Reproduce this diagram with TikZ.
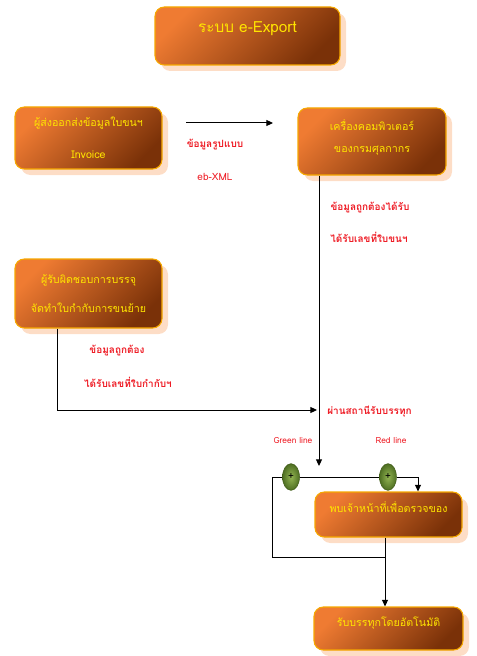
\documentclass[tikz,border=0pt]{standalone}
\usepackage{fontspec}
\setmainfont{Loma}[Script=Thai]
\usetikzlibrary{shapes.geometric,shadows,arrows.meta}
\definecolor{boxlight}{HTML}{EF7B32}
\definecolor{boxdark}{HTML}{7A3108}
\definecolor{boxrim}{HTML}{F6A800}
\definecolor{boxshade}{HTML}{FDDDC6}
\definecolor{boxtext}{HTML}{FFE500}
\definecolor{labelred}{HTML}{EE1C25}
\definecolor{gatelight}{HTML}{93B552}
\definecolor{gatedark}{HTML}{4E6E22}
\definecolor{gaterim}{HTML}{3F5B16}
\begin{document}
\begin{tikzpicture}[x=0.75pt,y=-0.75pt,
		procbox/.style={draw=boxrim, line width=0.8pt, rounded corners=7pt,
			top color=boxlight, bottom color=boxdark, shading angle=45,
			drop shadow={fill=boxshade, opacity=1, shadow xshift=4.5pt, shadow yshift=-4.5pt},
			text=boxtext, align=center, font=\fontsize{8}{10}\selectfont, inner sep=0pt},
		redlabel/.style={text=labelred, font=\fontsize{7.5}{9}\selectfont\bfseries},
		smallred/.style={text=labelred, font=\fontsize{6.3}{7}\selectfont},
		gate/.style={ellipse, draw=gaterim, inner color=gatelight, outer color=gatedark,
			minimum width=12.75pt, minimum height=20pt, inner sep=0pt, font=\fontsize{7.5}{7.5}\selectfont},
		flow/.style={line width=0.75pt},
		arrow/.style={flow, -{Triangle[length=5pt,width=4.5pt]}}]
		
		\useasboundingbox (0,0) rectangle (477,656);
		
		% Cajas
		\node[procbox, minimum width=138.75pt, minimum height=43.5pt, text depth=13pt, font=\fontsize{11.5}{13}\selectfont] (sys) at (247.5,36) {ระบบ e-Export};
		\node[procbox, minimum width=110.25pt, minimum height=46.5pt] (exp) at (88.5,138) {ผู้ส่งออกส่งข้อมูลใบขนฯ\\[14pt]Invoice};
		\node[procbox, minimum width=111pt, minimum height=50.25pt, text depth=8pt] (cus) at (372,141.5) {เครื่องคอมพิวเตอร์\\[6pt]ของกรมศุลกากร};
		\node[procbox, minimum width=110.25pt, minimum height=51.75pt] (resp) at (88.5,293.5) {ผู้รับผิดชอบการบรรจุ\\[12pt]จัดทำใบกำกับการขนย้าย};
		\node[procbox, minimum width=110.25pt, minimum height=33.75pt, text depth=11pt] (off) at (388.5,514.5) {พบเจ้าหน้าที่เพื่อตรวจของ};
		\node[procbox, minimum width=111.75pt, minimum height=32.25pt, text depth=9.5pt] (auto) at (388.5,628.5) {รับบรรทุกโดยอัตโนมัติ};
		
		% Textos
		\node[redlabel] (fmtA) at (215,145) {ข้อมูลรูปแบบ};
		\node[redlabel, font=\fontsize{7.5}{9}\selectfont] (fmtB) at (215,177) {eb-XML};
		\node[redlabel] (okA) at (370,208) {ข้อมูลถูกต้องได้รับ};
		\node[redlabel] (okB) at (369,237) {ได้รับเลขที่ใบขนฯ};
		\node[redlabel] (chkA) at (117,351) {ข้อมูลถูกต้อง};
		\node[redlabel] (chkB) at (128,382) {ได้รับเลขที่ใบกำกับฯ};
		\node[redlabel] (pass) at (369.5,412) {ผ่านสถานีรับบรรทุก};
		\node[smallred] (grn) at (293,441) {Green line};
		\node[smallred] (rdl) at (391,441) {Red line};
		
		% Flechas
		\coordinate (xmlS) at (186,123);
		\coordinate (xmlE) at (273,123);
		\coordinate (gateIn) at (319,466);
		\coordinate (respTurn) at (57,410);
		\coordinate (respEnd) at (317,410);
		\draw[arrow] (xmlS) -- (xmlE);
		\draw[arrow] (cus.south -| gateIn) -- (gateIn);
		\draw[arrow] (resp.south -| respTurn) -- (respTurn) -- (respEnd);
		
		% Puertas
		\node[gate] (gr1) at (291,477) {+};
		\node[gate] (gr2) at (388,477) {+};
		\coordinate (loopL) at (272,477);
		\coordinate (redTurn) at (418,477);
		\coordinate (loopB) at (272,557);
		\coordinate (loopM) at (385,557);
		\draw[arrow] (loopL) -- (gr1) -- (gr2) -- (redTurn) -- (redTurn |- off.north);
		\draw[flow] (loopL) -- (loopB) -- (loopM);
		\draw[arrow] (off.south -| loopM) -- (auto.north -| loopM);
		
	\end{tikzpicture}
\end{document}
